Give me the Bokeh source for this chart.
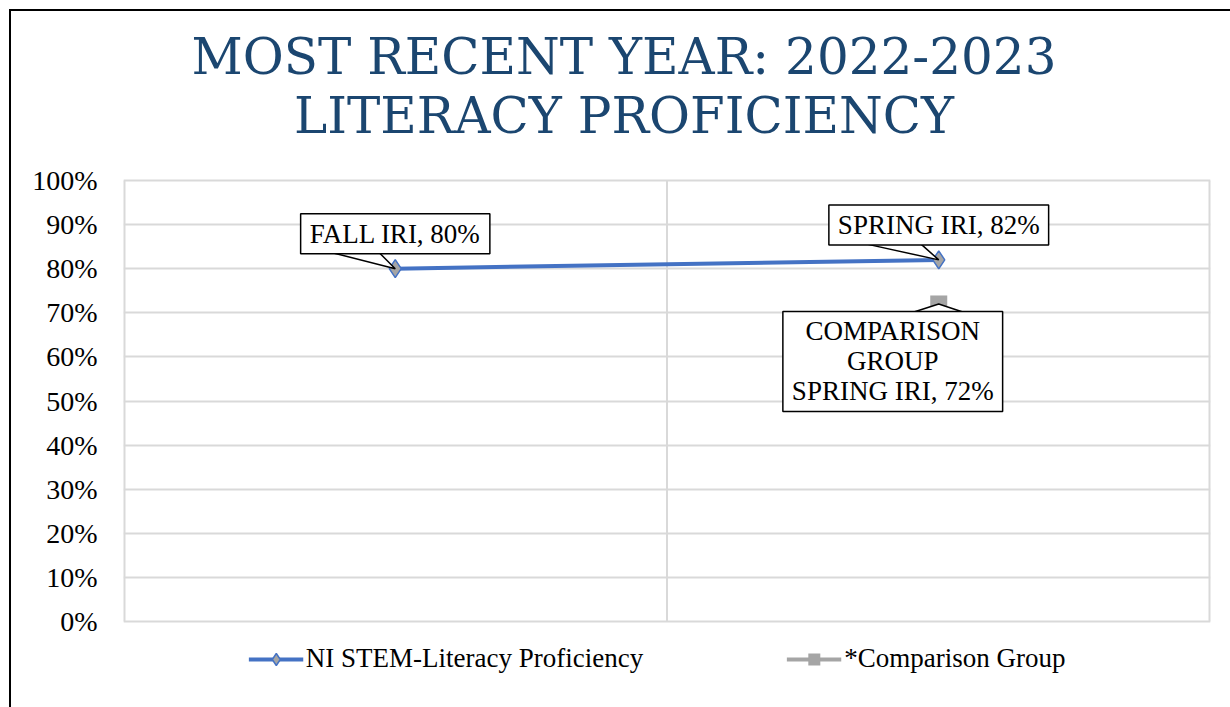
from bokeh.plotting import figure
from bokeh.models import (FactorRange, Range1d, FixedTicker, NumeralTickFormatter, Label,
                          Legend, LegendItem)
from bokeh.embed import file_html
from bokeh.resources import INLINE

# ---------------- data ----------------
categories = ["Fall IRI", "Spring IRI"]
ni_stem = [0.80, 0.82]
comparison = [float("nan"), 0.72]
y_ticks = [0.0, 0.1, 0.2, 0.3, 0.4, 0.5, 0.6, 0.7, 0.8, 0.9, 1.0]
title_lines = ["MOST RECENT YEAR: 2022-2023", "LITERACY PROFICIENCY"]
series_names = ["NI STEM-Literacy Proficiency", "*Comparison Group"]
label_texts = ["FALL IRI, 80%", "SPRING IRI, 82%", "COMPARISON\nGROUP\nSPRING IRI, 72%"]

# ---------------- layout (page px) ----------------
OFF = 11                       # chart box offset (black border)
PLOT_L, PLOT_R = 123, 1210     # plot area left/right
PLOT_T, PLOT_B = 180, 621      # plot area top (100%) / bottom (0%)
PAGE_W, PAGE_H = 1230, 707
XS = (PLOT_R - PLOT_L) / len(categories)   # px per category unit
YS = (PLOT_B - PLOT_T) / 1.0               # px per unit of y
Y_END = 1 + (PLOT_T - OFF) / YS            # frame extends up to the chart box top
Y_START = -(PAGE_H - PLOT_B) / YS          # ... and down to the window bottom

BLUE = "#4472C4"
GRAY = "#A5A5A5"
GRID = "#D9D9D9"
TITLE = "#1B4670"
SERIF = "Liberation Serif"

p = figure(frame_width=PLOT_R - PLOT_L, frame_height=PAGE_H - OFF,
           x_range=FactorRange(*categories, range_padding=0),
           y_range=Range1d(Y_START, Y_END), x_axis_location=None, title=None,
           output_backend="svg", toolbar_location=None,
           min_border_left=PLOT_L - OFF, min_border_right=PAGE_W - PLOT_R,
           min_border_top=0, min_border_bottom=0,
           background_fill_color="white", border_fill_color="white")
p.margin = (OFF, 0, 0, OFF)
p.styles = {"outline": "2px solid black"}
p.outline_line_color = None

p.xgrid.visible = False
p.yaxis.ticker = FixedTicker(ticks=y_ticks)
p.yaxis.formatter = NumeralTickFormatter(format="0%")
p.yaxis.axis_line_color = None
p.yaxis.major_tick_line_color = None
p.yaxis.minor_tick_line_color = None
p.yaxis.major_label_standoff = 20
p.yaxis.major_label_text_font = SERIF
p.yaxis.major_label_text_font_size = "28px"
p.yaxis.major_label_text_color = "black"
p.ygrid.ticker = FixedTicker(ticks=y_ticks)
p.ygrid.grid_line_color = GRID
p.ygrid.grid_line_width = 2

# plot-area vertical lines (left edge, middle divider, right edge), 0%..100%
n = len(categories)
p.segment(x0=[0, n / 2, n], y0=[y_ticks[0]] * 3, x1=[0, n / 2, n], y1=[y_ticks[-1]] * 3,
          line_color=GRID, line_width=[4, 2, 4])

# ---------------- series ----------------
ni_line = p.line(categories, ni_stem, line_color=BLUE, line_width=4)
ni_pts = p.scatter(categories, ni_stem, marker="diamond", size=18, fill_color=GRAY,
                   line_color=BLUE, line_width=1.5)
cmp_line = p.line(categories, comparison, line_color=GRAY, line_width=4)
cmp_pts = p.scatter(categories, comparison, marker="square", size=17, fill_color=GRAY,
                    line_color=None)

# ---------------- callouts ----------------
def xc(i):
    return i + 0.5

callouts = [
    (ni_stem, 0, (0, 35), [(-63, 16), (-16, 16)]),
    (ni_stem, 1, (0, 35), [(-73, 16), (-18, 16)]),
    (comparison, 1, (-46, -57.5), [(-28, -9), (27, -9)]),
]
txs, tys = [], []
for vals, i, (dx, dy), tail in callouts:
    x0, y0 = xc(i), vals[i]
    txs.append([x0 + tail[0][0] / XS, x0, x0 + tail[1][0] / XS])
    tys.append([y0 + tail[0][1] / YS, y0, y0 + tail[1][1] / YS])
p.patches(txs, tys, fill_color="white", line_color="black", line_width=1.5)

for (vals, i, (dx, dy), tail), txt in zip(callouts, label_texts):
    p.add_layout(Label(x=xc(i) + dx / XS, y=vals[i] + dy / YS, text=txt,
                       text_align="center", text_baseline="middle",
                       text_font=SERIF, text_font_size="27px", text_color="black",
                       text_line_height=1.0,
                       background_fill_color="white", border_line_color="black",
                       border_line_width=1.5,
                       padding=dict(left=9, right=9, top=5, bottom=5)))

# ---------------- title (two lines) ----------------
title_cx = (623.5 - PLOT_L) / XS
for txt, base_px in zip(title_lines, [56, 115]):
    p.add_layout(Label(x=title_cx, y=(PLOT_B - base_px) / YS, text=txt,
                       text_align="center", text_baseline="alphabetic",
                       text_font="DejaVu Serif", text_font_size="50px", text_color=TITLE))

# ---------------- legend ----------------
legend = Legend(items=[LegendItem(label=series_names[0], renderers=[ni_line, ni_pts]),
                       LegendItem(label=series_names[1], renderers=[cmp_line, cmp_pts])],
                orientation="horizontal", location="bottom_center",
                glyph_width=55, glyph_height=30, label_height=30, label_width=241,
                label_standoff=3, spacing=143, padding=0, margin=33,
                label_text_font=SERIF, label_text_font_size="27px", label_text_color="black",
                background_fill_alpha=0, border_line_color=None)
p.add_layout(legend, "center")

open("out.html", "w").write(file_html(p, INLINE))
